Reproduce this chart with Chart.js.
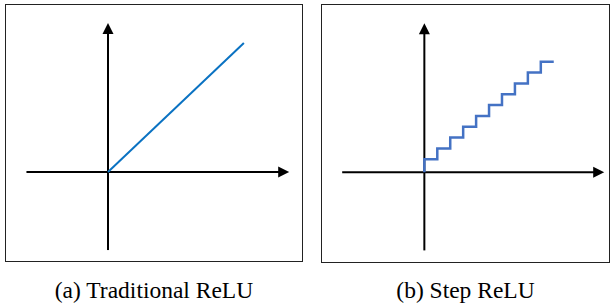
<!DOCTYPE html>
<html>
<head>
<meta charset="utf-8">
<script src="https://cdn.jsdelivr.net/npm/chart.js@4/dist/chart.umd.min.js"></script>
<style>
  body { margin: 0; background: #fff; width: 613px; height: 305px; position: relative; overflow: hidden; }
  .panel { position: absolute; border: 1px solid #222; box-sizing: border-box; }
  canvas { position: absolute; }
  .cap { position: absolute; font-family: "Liberation Serif", "Times New Roman", Times, serif; font-size: 23.5px; color: #000; text-align: center; white-space: nowrap; }
</style>
</head>
<body>
<div class="panel" style="left:5px; top:4px; width:298px; height:258px;"></div>
<div class="panel" style="left:321px; top:4px; width:289px; height:259px;"></div>
<canvas id="reluChart" width="296" height="256" style="left:6px; top:5px;"></canvas>
<canvas id="stepChart" width="287" height="257" style="left:322px; top:5px;"></canvas>
<div class="cap" style="left:5px; width:298px; top:277px;">(a) Traditional ReLU</div>
<div class="cap" style="left:321px; width:289px; top:277px;">(b) Step ReLU</div>
<script>
// axis extents (data units), tip = arrow end
const axisX = [-6.3, 14.0];
const axisY = [-7.2, 13.75];
const stepAxisX = [-6.35, 13.9];

// traditional ReLU
const reluX = [0, 10.5];
const reluY = [0, 11.9];

// step ReLU (horizontal run, then rise)
const stepX = [0, 0, 1, 2, 3, 4, 5, 6, 7, 8, 9, 10];
const stepY = [0, 1.2, 2.2, 3.2, 4.2, 5.2, 6.2, 7.2, 8.2, 9.2, 10.2, 10.2];

function pts(xs, ys) {
  return xs.map((x, i) => ({ x: x, y: ys[i] }));
}

const arrowPlugin = {
  id: "arrows",
  afterDatasetsDraw(chart) {
    const ctx = chart.ctx;
    const o = chart.options.plugins.arrows;
    const xs = chart.scales.x, ys = chart.scales.y;
    const x0 = xs.getPixelForValue(0), y0 = ys.getPixelForValue(0);
    const xt = xs.getPixelForValue(o.xTip);
    const yt = ys.getPixelForValue(o.yTip);
    const len = 11, half = 5.5;
    ctx.save();
    ctx.fillStyle = "#000";
    ctx.beginPath();
    ctx.moveTo(xt, y0);
    ctx.lineTo(xt - len, y0 - half);
    ctx.lineTo(xt - len, y0 + half);
    ctx.closePath();
    ctx.fill();
    ctx.beginPath();
    ctx.moveTo(x0, yt);
    ctx.lineTo(x0 - half, yt + len);
    ctx.lineTo(x0 + half, yt + len);
    ctx.closePath();
    ctx.fill();
    ctx.restore();
  }
};

function makeChart(id, curve, color, width, stepped, ax, ay, xr, yr) {
  return new Chart(document.getElementById(id), {
    type: "scatter",
    data: {
      datasets: [
        {
          data: curve,
          showLine: true,
          borderColor: color,
          borderWidth: width,
          pointRadius: 0,
          stepped: stepped,
        },
        {
          data: pts([ax[0], ax[1] - 0.6], [0, 0]),
          showLine: true,
          borderColor: "#000",
          borderWidth: 2,
          pointRadius: 0,
        },
        {
          data: pts([0, 0], [ay[0], ay[1] - 0.6]),
          showLine: true,
          borderColor: "#000",
          borderWidth: 2,
          pointRadius: 0,
        },
      ],
    },
    options: {
      responsive: false,
      animation: false,
      devicePixelRatio: 1,
      layout: { padding: 0 },
      plugins: {
        legend: { display: false },
        tooltip: { enabled: false },
        arrows: { xTip: ax[1], yTip: ay[1] },
      },
      scales: {
        x: { type: "linear", display: false, min: xr[0], max: xr[1] },
        y: { type: "linear", display: false, min: yr[0], max: yr[1] },
      },
    },
    plugins: [arrowPlugin],
  });
}

makeChart("reluChart", pts(reluX, reluY), "#0a72c2", 2, false,
  axisX, axisY, [-7.88, 14.99], [-8.21, 15.41]);
makeChart("stepChart", pts(stepX, stepY), "#4472c4", 2.5, "before",
  stepAxisX, axisY, [-7.91, 14.27], [-8.27, 15.43]);
</script>
</body>
</html>
